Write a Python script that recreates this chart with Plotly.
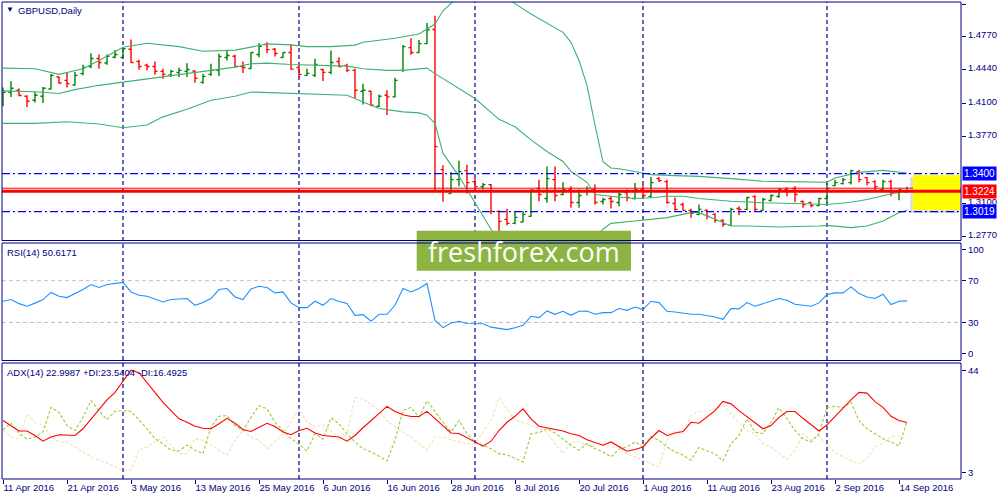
import plotly.graph_objects as go

# ---------------- data ----------------
bar_idx = list(range(114))

opens = [1.4156,1.4216,1.4235,1.4176,1.4136,1.4176,1.4248,1.4368,1.4335,1.4288,
1.4402,1.4474,1.4554,1.4508,1.4567,1.4564,1.4646,1.4524,1.4487,1.4474,
1.4425,1.4388,1.4415,1.4425,1.4428,1.4315,1.4395,1.4435,1.4564,1.4577,
1.4474,1.4454,1.4594,1.4693,1.4646,1.4564,1.4614,1.4464,1.4385,1.4385,
1.4444,1.4415,1.4524,1.4484,1.4435,1.4226,1.4226,1.4076,1.4186,1.4169,
1.4435,1.4663,1.4614,1.4703,1.4845,1.3440,1.3201,1.3340,1.3430,1.3320,
1.3270,1.3290,1.3022,1.2942,1.2902,1.2916,1.2972,1.3251,1.3151,1.3340,
1.3191,1.3241,1.3111,1.3221,1.3241,1.3121,1.3151,1.3111,1.3211,1.3151,
1.3241,1.3171,1.3350,1.3320,1.3101,1.3091,1.3032,1.2992,1.3032,1.2992,
1.2932,1.2882,1.3051,1.3042,1.3171,1.3032,1.3131,1.3171,1.3241,1.3251,
1.3121,1.3111,1.3081,1.3151,1.3280,1.3300,1.3310,1.3420,1.3360,1.3320,
1.3241,1.3320,1.3211,1.3215]

highs = [1.4262,1.4325,1.4252,1.4186,1.4219,1.4268,1.4398,1.4375,1.4412,1.4418,
1.4491,1.4607,1.4594,1.4594,1.4640,1.4666,1.4743,1.4541,1.4501,1.4524,
1.4451,1.4441,1.4461,1.4507,1.4435,1.4402,1.4501,1.4601,1.4634,1.4591,
1.4524,1.4617,1.4706,1.4716,1.4660,1.4617,1.4700,1.4484,1.4451,1.4551,
1.4451,1.4634,1.4567,1.4501,1.4451,1.4302,1.4229,1.4193,1.4236,1.4362,
1.4690,1.4756,1.4740,1.4909,1.4982,1.3483,1.3417,1.3529,1.3489,1.3357,
1.3307,1.3297,1.3032,1.3049,1.3025,1.3025,1.3241,1.3340,1.3472,1.3472,
1.3313,1.3273,1.3241,1.3273,1.3290,1.3158,1.3174,1.3234,1.3241,1.3307,
1.3290,1.3367,1.3367,1.3340,1.3161,1.3108,1.3049,1.3091,1.3042,1.3002,
1.2942,1.3058,1.3074,1.3168,1.3181,1.3158,1.3191,1.3257,1.3264,1.3273,
1.3131,1.3114,1.3158,1.3307,1.3340,1.3357,1.3440,1.3440,1.3367,1.3333,
1.3340,1.3340,1.3241,1.3268]

lows = [1.4076,1.4169,1.4176,1.4069,1.4113,1.4109,1.4245,1.4302,1.4262,1.4282,
1.4385,1.4457,1.4451,1.4491,1.4557,1.4557,1.4511,1.4441,1.4435,1.4392,
1.4352,1.4368,1.4368,1.4368,1.4312,1.4302,1.4378,1.4378,1.4534,1.4467,
1.4408,1.4451,1.4567,1.4607,1.4574,1.4561,1.4441,1.4368,1.4378,1.4368,
1.4328,1.4395,1.4467,1.4418,1.4159,1.4093,1.4076,1.4069,1.3987,1.4166,
1.4418,1.4591,1.4611,1.4700,1.3211,1.3118,1.3201,1.3273,1.3201,1.3240,
1.3240,1.2992,1.2826,1.2883,1.2892,1.2912,1.2969,1.3124,1.3108,1.3124,
1.3184,1.3058,1.3058,1.3181,1.3091,1.3091,1.3051,1.3074,1.3124,1.3141,
1.3148,1.3161,1.3317,1.3098,1.3027,1.3025,1.2959,1.2982,1.2942,1.2909,
1.2869,1.2877,1.2982,1.3032,1.3025,1.3027,1.3124,1.3158,1.3174,1.3114,
1.3058,1.3064,1.3074,1.3091,1.3273,1.3290,1.3290,1.3313,1.3283,1.3234,
1.3224,1.3174,1.3134,1.3208]

closes = [1.4216,1.4255,1.4183,1.4126,1.4186,1.4255,1.4385,1.4308,1.4302,1.4385,
1.4464,1.4554,1.4514,1.4577,1.4594,1.4653,1.4514,1.4474,1.4474,1.4425,
1.4395,1.4425,1.4435,1.4444,1.4355,1.4375,1.4435,1.4574,1.4584,1.4474,
1.4464,1.4614,1.4676,1.4643,1.4604,1.4614,1.4447,1.4395,1.4405,1.4494,
1.4415,1.4514,1.4474,1.4435,1.4236,1.4236,1.4086,1.4176,1.4169,1.4335,
1.4673,1.4614,1.4703,1.4842,1.3671,1.3224,1.3340,1.3420,1.3310,1.3270,
1.3290,1.3022,1.2922,1.2902,1.2962,1.2992,1.3236,1.3191,1.3350,1.3181,
1.3241,1.3111,1.3181,1.3231,1.3111,1.3141,1.3121,1.3191,1.3161,1.3241,
1.3181,1.3310,1.3330,1.3111,1.3042,1.3032,1.3002,1.3042,1.2972,1.2932,
1.2892,1.3042,1.3042,1.3161,1.3042,1.3141,1.3181,1.3241,1.3221,1.3191,
1.3091,1.3081,1.3151,1.3251,1.3310,1.3340,1.3430,1.3340,1.3310,1.3270,
1.3320,1.3211,1.3241,1.3224]

bb_upper_idx = [0,4,7,10,12,15,18,22,25,29,31,33,36,38,41,44,45,49,52,54,55,56,58,60,62,
                64,66,70,71,72,73,74,75,76,77,80,81,84,87,91,95,98,102,103,104,106,107,110,112,113]
bb_upper = [1.4457,1.4451,1.4395,1.4451,1.4534,1.4666,1.4706,1.4673,1.4627,1.4638,
            1.4668,1.4700,1.4690,1.4673,1.4673,1.4688,1.4716,1.4756,1.4800,1.4899,
            1.5032,1.5104,1.5250,1.5300,1.5220,1.5104,1.4999,1.4816,1.4716,1.4534,
            1.4285,1.3887,1.3519,1.3456,1.3449,1.3407,1.3390,1.3380,1.3373,1.3350,
            1.3323,1.3320,1.3313,1.3313,1.3357,1.3390,1.3413,1.3433,1.3413,1.3407]

bb_mid_idx = [0,4,7,9,12,15,18,20,23,26,29,31,33,36,39,43,45,48,50,53,54,56,59,62,64,
              66,68,70,71,73,74,76,79,81,83,85,87,91,95,99,103,106,108,110,112,113]
bb_mid = [1.4229,1.4221,1.4203,1.4242,1.4285,1.4318,1.4352,1.4375,1.4408,1.4435,
          1.4467,1.4501,1.4507,1.4494,1.4484,1.4477,1.4451,1.4435,1.4435,1.4457,
          1.4402,1.4302,1.4153,1.3944,1.3870,1.3738,1.3622,1.3522,1.3423,1.3313,
          1.3191,1.3174,1.3151,1.3158,1.3174,1.3174,1.3151,1.3124,1.3108,1.3101,
          1.3091,1.3114,1.3141,1.3178,1.3211,1.3231]

bb_low_idx = [0,4,8,12,15,18,20,23,26,29,31,35,39,43,45,47,50,52,53,54,55,57,59,61,62,
              65,68,72,75,76,79,83,86,87,89,91,93,97,102,103,106,108,110,112,113]
bb_low = [1.3904,1.3904,1.3920,1.3897,1.3860,1.3887,1.3969,1.4046,1.4136,1.4175,
          1.4218,1.4208,1.4195,1.4185,1.4119,1.4053,1.4019,1.4009,1.3986,1.3904,
          1.3605,1.3373,1.3108,1.2843,1.2743,1.2564,1.2524,1.2594,1.2843,1.2902,
          1.2925,1.2959,1.3009,1.3009,1.2942,1.2875,1.2875,1.2865,1.2875,1.2882,
          1.2859,1.2875,1.2925,1.3009,1.3032]

rsi = [50.3,51.9,48.0,45.5,48.5,51.9,58.7,55.1,53.8,57.5,
61.5,66.3,63.5,66.3,67.0,68.3,59.2,56.1,55.1,52.0,
49.6,51.9,52.5,52.9,46.4,49.0,52.9,61.5,62.5,54.4,
51.9,62.0,64.7,63.5,58.3,59.2,48.7,44.2,44.2,50.3,
46.4,52.9,50.0,48.1,36.8,37.5,31.1,37.8,37.8,46.4,
62.5,59.2,62.5,67.3,32.0,25.0,29.4,31.1,29.0,29.0,
28.8,25.5,24.0,23.1,25.0,27.2,35.9,34.6,41.0,37.8,
40.7,36.8,40.7,40.9,37.8,39.4,39.4,43.3,41.6,44.8,
42.3,50.3,49.0,40.7,40.0,39.0,37.8,37.8,36.8,35.2,
33.0,43.3,43.0,49.0,45.5,48.1,50.3,52.9,51.2,47.4,
46.4,45.5,48.7,56.7,58.3,58.3,64.0,57.7,54.4,52.9,
57.0,47.1,50.3,50.6]

adx = [23.8,21.8,19.6,19.6,17.8,15.5,17.2,18.1,18.0,17.8,
20.5,24.5,28.5,32.1,35.1,39.7,44.0,43.0,39.1,35.1,
31.1,27.8,24.5,23.1,21.5,20.7,20.5,22.5,24.7,22.7,
20.2,19.4,21.2,22.7,21.4,19.2,18.1,19.8,20.7,18.8,
17.8,17.4,17.2,15.5,17.8,20.9,23.8,26.5,29.5,27.4,
26.1,25.4,25.4,27.5,24.5,21.4,18.8,18.6,16.9,15.5,
13.5,15.5,19.8,23.1,25.5,28.5,24.5,21.5,20.9,20.5,
19.6,18.5,17.8,16.1,14.9,13.9,15.2,13.2,11.5,12.2,
13.2,16.8,19.8,17.8,18.8,19.4,23.1,22.7,25.1,27.8,
31.5,30.5,27.8,25.4,22.9,20.5,21.8,25.1,27.4,27.4,
24.7,22.1,19.6,22.1,25.5,29.1,32.1,35.1,34.8,31.4,
29.1,25.5,23.8,23.0]

plus_di = [20.1,22.8,18.8,16.3,17.2,19.2,29.1,27.1,21.8,19.8,
25.1,31.8,27.8,24.2,27.5,27.8,27.5,24.2,20.5,16.5,
14.5,11.9,11.6,13.9,11.9,10.5,21.2,25.5,25.8,21.8,
19.8,25.1,29.8,28.5,23.1,19.8,16.5,14.3,11.6,18.5,
16.3,24.9,22.5,18.5,15.2,12.5,11.2,9.5,7.6,15.9,
27.8,29.1,25.1,31.8,27.4,23.1,19.2,23.8,18.5,15.2,
13.9,12.5,10.5,10.1,8.6,7.2,18.5,18.9,20.5,18.8,
16.3,13.9,11.9,14.5,12.5,11.2,9.2,12.3,13.2,15.2,
13.2,17.2,15.9,13.2,11.2,9.9,7.9,13.0,11.6,10.5,
7.6,14.5,17.8,24.5,19.2,18.5,23.1,28.9,24.5,19.8,
16.5,15.2,18.5,29.1,29.5,29.1,31.1,23.8,20.5,18.5,
16.5,15.2,13.5,23.5]

minus_di = [19.8,17.2,16.5,26.5,23.1,21.8,17.2,15.2,15.2,13.2,
11.2,9.2,7.9,6.8,5.2,3.9,3.9,11.9,13.2,15.2,
17.2,13.9,10.5,10.5,16.5,15.9,13.9,11.9,9.9,15.9,
19.8,17.2,15.9,12.5,15.2,18.5,23.1,28.5,23.1,21.2,
22.1,19.8,15.9,18.5,33.1,32.4,30.4,27.8,23.8,21.2,
19.2,17.2,14.5,11.9,17.2,17.2,16.1,15.2,14.5,14.5,
19.2,23.8,33.1,28.5,23.8,23.1,21.8,20.5,19.2,14.5,
10.5,15.2,15.2,13.9,13.2,13.9,13.2,13.2,10.5,9.2,
7.9,6.6,5.2,15.9,19.8,18.5,25.8,27.5,27.5,28.5,
29.8,26.5,22.8,19.8,18.5,14.5,13.2,10.5,8.2,11.9,
18.5,15.9,17.8,13.9,11.2,9.2,7.9,6.3,8.6,13.2,
14.5,17.2,17.8,16.5]

date_idx = [0, 8, 16, 24, 32, 40, 48, 56, 64, 72, 80, 88, 96, 104, 112]
date_labels = ["11 Apr 2016", "21 Apr 2016", "3 May 2016", "13 May 2016", "25 May 2016",
               "6 Jun 2016", "16 Jun 2016", "28 Jun 2016", "8 Jul 2016", "20 Jul 2016",
               "1 Aug 2016", "11 Aug 2016", "23 Aug 2016", "2 Sep 2016", "14 Sep 2016"]
grid_idx = [15, 37, 59, 80, 103]

price_ticks = [1.5100, 1.4770, 1.4440, 1.4100, 1.3770, 1.3100, 1.2770]
rsi_ticks = [100, 70, 30, 0]
adx_ticks = [44, 3]
rsi_levels = [70, 30]
level_hi = 1.3400
level_lo = 1.3019
price_now = 1.3224
price_ask = 1.3254

# ---------------- style ----------------
NAVY = "#000080"
FONT = "Liberation Sans"
W, H = 1000, 500
ML, MR, MT, MB = 2, 39, 2, 21
PW, PH = W - ML - MR, H - MT - MB


def px_x(p):
    return (p - ML) / PW


def px_y(p):
    return (H - MB - p) / PH


dom_main = [px_y(240.5), 1.0]
dom_rsi = [px_y(360.5), px_y(243)]
dom_adx = [0.0, px_y(363)]

fig = go.Figure()

bb_col = "#3CB371"
for xs, ys in [(bb_upper_idx, bb_upper), (bb_mid_idx, bb_mid), (bb_low_idx, bb_low)]:
    fig.add_trace(go.Scatter(x=xs, y=ys, mode="lines", line=dict(color=bb_col, width=1.1),
                             xaxis="x", yaxis="y", hoverinfo="skip"))

fig.add_trace(go.Ohlc(x=bar_idx, open=opens, high=highs, low=lows, close=closes,
                      increasing=dict(line=dict(color="#008000", width=1.4)),
                      decreasing=dict(line=dict(color="#FF0000", width=1.4)),
                      tickwidth=0.32, xaxis="x", yaxis="y"))

fig.add_trace(go.Scatter(x=bar_idx, y=rsi, mode="lines", line=dict(color="#1E90FF", width=1.1),
                         xaxis="x", yaxis="y2"))

fig.add_trace(go.Scatter(x=bar_idx, y=minus_di, mode="lines",
                         line=dict(color="#F5DEB3", width=1.1, dash="3px,2px"), xaxis="x", yaxis="y3"))
fig.add_trace(go.Scatter(x=bar_idx, y=plus_di, mode="lines",
                         line=dict(color="#9ACD32", width=1.1, dash="3px,2px"), xaxis="x", yaxis="y3"))
fig.add_trace(go.Scatter(x=bar_idx, y=adx, mode="lines", line=dict(color="#FF0000", width=1.1),
                         xaxis="x", yaxis="y3"))

shapes = []
for g in grid_idx:
    shapes.append(dict(type="line", xref="x", yref="paper", x0=g, x1=g, y0=0, y1=1,
                       line=dict(color=NAVY, width=1.2, dash="4px,3px"), layer="below"))
for lv in rsi_levels:
    shapes.append(dict(type="line", xref="paper", yref="y2", x0=0, x1=1, y0=lv, y1=lv,
                       line=dict(color="#C0C0C0", width=1, dash="4px,3px"), layer="below"))
for lv in [level_hi, level_lo]:
    shapes.append(dict(type="line", xref="paper", yref="y", x0=0, x1=1, y0=lv, y1=lv,
                       line=dict(color="#0000FF", width=1.4, dash="8px,3px,2px,3px")))
shapes.append(dict(type="line", xref="paper", yref="y", x0=0, x1=1, y0=price_ask, y1=price_ask,
                   line=dict(color="#FF0000", width=1)))
# yellow highlight with soft shadow
shapes.append(dict(type="rect", xref="paper", yref="paper",
                   x0=px_x(910), x1=px_x(958), y0=px_y(213), y1=px_y(177),
                   line=dict(width=0), fillcolor="rgba(0,0,0,0.13)"))
shapes.append(dict(type="rect", xref="paper", yref="paper",
                   x0=px_x(913), x1=px_x(960), y0=px_y(210), y1=px_y(175),
                   line=dict(width=0), fillcolor="#FFFF00"))
shapes.append(dict(type="line", xref="paper", yref="y", x0=0, x1=1, y0=price_now, y1=price_now,
                   line=dict(color="#FF0000", width=3)))
# watermark box
shapes.append(dict(type="rect", xref="paper", yref="paper",
                   x0=px_x(416.7), x1=px_x(631), y0=px_y(270.7), y1=px_y(230.7),
                   line=dict(width=0), fillcolor="#8DB443"))
# panel frames
for d in [dom_main, dom_rsi, dom_adx]:
    shapes.append(dict(type="rect", xref="paper", yref="paper", x0=0, x1=1, y0=d[0], y1=d[1],
                       line=dict(color=NAVY, width=1)))

annotations = [
    dict(text="▼", xref="paper", yref="paper", x=px_x(9.5), y=px_y(10), xanchor="center",
         yanchor="middle", showarrow=False, font=dict(family=FONT, size=8, color=NAVY)),
    dict(text="GBPUSD,Daily", xref="paper", yref="paper", x=px_x(16), y=px_y(10.5),
         xanchor="left", yanchor="middle", showarrow=False, font=dict(family=FONT, size=9.5, color=NAVY)),
    dict(text="RSI(14) 50.6171", xref="paper", yref="paper", x=px_x(5), y=px_y(252),
         xanchor="left", yanchor="middle", showarrow=False, font=dict(family=FONT, size=9.5, color=NAVY)),
    dict(text="ADX(14) 22.9987 +DI:23.5404 -DI:16.4925", xref="paper", yref="paper", x=px_x(5),
         y=px_y(372), xanchor="left", yanchor="middle", showarrow=False,
         font=dict(family=FONT, size=9.5, color=NAVY)),
    dict(text="freshforex.com", xref="paper", yref="paper", x=px_x(524), y=px_y(251),
         xanchor="center", yanchor="middle", showarrow=False,
         font=dict(family="Open Sans", size=27, color="white")),
]
for val, bg in [(level_hi, "#0000FF"), (price_now, "#FF0000"), (level_lo, "#0000FF")]:
    annotations.append(dict(text=f"{val:.4f}", xref="paper", yref="y", x=1, y=val, xanchor="left",
                            yanchor="middle", xshift=1, showarrow=False, bgcolor=bg, borderpad=1,
                            font=dict(family=FONT, size=10, color="white")))

tickfont = dict(family=FONT, size=9.5, color=NAVY)
yax_common = dict(side="right", anchor="x", showgrid=False, zeroline=False, ticks="outside",
                  ticklen=4, tickcolor=NAVY, tickfont=tickfont, showline=False, fixedrange=True)

fig.update_layout(
    width=W, height=H,
    margin=dict(l=ML, r=MR, t=MT, b=MB),
    paper_bgcolor="white", plot_bgcolor="white",
    showlegend=False,
    xaxis=dict(domain=[0, 1], range=[-0.125, 119.75], anchor="y3", showgrid=False, zeroline=False,
               tickvals=date_idx, ticktext=date_labels, ticks="outside", ticklen=4, tickcolor=NAVY,
               tickfont=tickfont, ticklabelposition="outside right", rangeslider=dict(visible=False),
               showline=False),
    yaxis=dict(domain=dom_main, range=[1.273, 1.512], tickvals=price_ticks,
               ticktext=[f"{v:.4f}" for v in price_ticks], ticklabelshift=-2, **yax_common),
    yaxis2=dict(domain=dom_rsi, range=[-6.44, 106.06], tickvals=rsi_ticks,
                ticktext=[str(v) for v in rsi_ticks], **yax_common),
    yaxis3=dict(domain=dom_adx, range=[0.33, 46.9], tickvals=adx_ticks,
                ticktext=[str(v) for v in adx_ticks], **yax_common),
    shapes=shapes,
    annotations=annotations,
)

fig.write_html("out.html", config={"displayModeBar": False},
               post_script="document.body.style.margin='0px';")
